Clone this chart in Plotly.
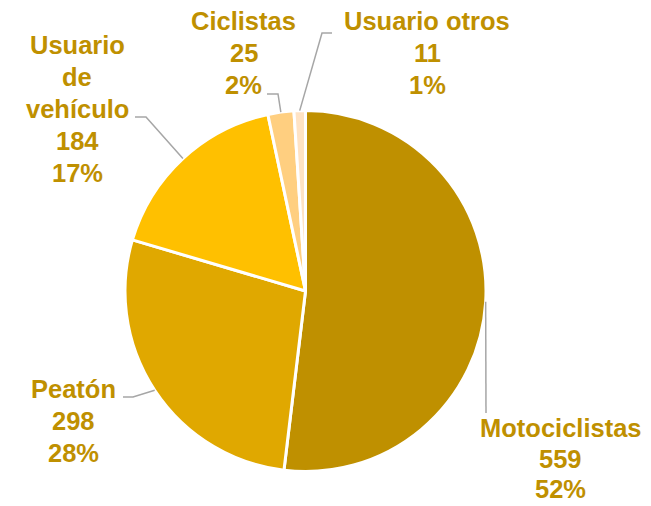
import math
import plotly.graph_objects as go

categories = ["Motociclistas", "Peatón", "Usuario de vehículo", "Ciclistas", "Usuario otros"]
label_lines = [["Motociclistas"], ["Peatón"], ["Usuario", "de", "vehículo"], ["Ciclistas"], ["Usuario otros"]]
values = [559, 298, 184, 25, 11]
colors = ["#BF9000", "#E0A800", "#FFC000", "#FFCF80", "#FFE3C4"]

W, H = 651, 506
# pie geometry in pixels
cx, cy, R = 305.5, 291, 180.5

# label layout (pixel): x centre, first line centre, line spacing; elbow point, end point of leader
label_pos = [(560.5, 428, 30.5), (73, 389, 32), (77, 45, 32), (243.5, 21, 32), (427, 21, 32)]
elbows = [(486, 413), (133, 397), (146, 117), (278, 94), (322, 33)]
ends = [(486, 413), (123, 397), (135, 117), (267, 94), (332, 33)]

def px(x):
    return x / W

def py(y):
    return 1 - y / H

total = sum(values)
fig = go.Figure(go.Pie(
    labels=categories, values=values, sort=False, direction="clockwise", rotation=0,
    marker=dict(colors=colors, line=dict(color="white", width=3)),
    textinfo="none", hoverinfo="label+value+percent", showlegend=False,
    domain=dict(x=[px(cx - R), px(cx + R)], y=[py(cy + R), py(cy - R)]),
))

shapes = []
annotations = []
cum = 0
for i, v in enumerate(values):
    mid = (cum + v / 2) / total * 2 * math.pi
    cum += v
    sx = cx + R * math.sin(mid)
    sy = cy - R * math.cos(mid)
    ex, ey = elbows[i]
    fx, fy = ends[i]
    path = f"M {px(sx)} {py(sy)} L {px(ex)} {py(ey)} L {px(fx)} {py(fy)}"
    shapes.append(dict(type="path", path=path, xref="paper", yref="paper",
                       line=dict(color="#A6A6A6", width=1.5)))
    pct = round(v / total * 100)
    lines = label_lines[i] + [str(v), f"{pct}%"]
    x0, y0, step = label_pos[i]
    for k, t in enumerate(lines):
        annotations.append(dict(
            x=px(x0), y=py(y0 + k * step), xref="paper", yref="paper",
            xanchor="center", yanchor="middle", showarrow=False, align="center",
            text=f"<b>{t}</b>",
            font=dict(family="Liberation Sans, Arial, sans-serif", size=25.5, color="#BF9000"),
        ))

fig.update_layout(
    width=W, height=H, margin=dict(l=0, r=0, t=0, b=0),
    paper_bgcolor="white", plot_bgcolor="white",
    shapes=shapes, annotations=annotations,
)
fig.write_html("out.html", config={"displayModeBar": False},
               post_script="document.body.style.margin='0px';document.body.style.padding='0px';")
